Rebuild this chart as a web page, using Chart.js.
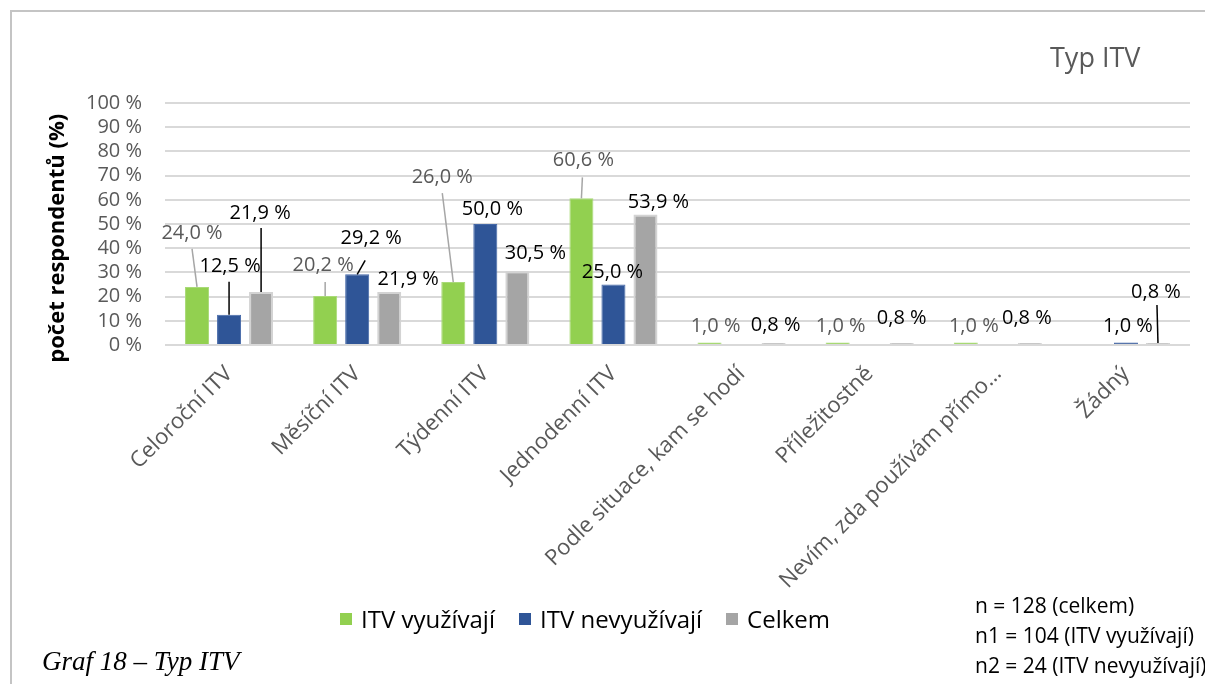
<!DOCTYPE html>
<html>
<head>
<meta charset="utf-8">
<script src="https://cdn.jsdelivr.net/npm/chart.js@4.4.1/dist/chart.umd.min.js"></script>
<style>
html,body{margin:0;padding:0;width:1205px;height:684px;overflow:hidden;background:#fff;}
#frame{position:absolute;left:10px;top:10px;width:1300px;height:800px;border-left:2px solid #c4c4c4;border-top:2px solid #c4c4c4;box-sizing:border-box;}
#c{position:absolute;left:0;top:0;}
#title{position:absolute;left:1050px;top:39px;font-family:"Open Sans",sans-serif;font-size:27px;line-height:36px;color:#595959;white-space:nowrap;}
#legend{position:absolute;left:340px;top:604px;height:30px;display:flex;align-items:center;font-family:"Open Sans",sans-serif;font-size:24px;line-height:30px;color:#000;white-space:nowrap;}
#legend .item{display:flex;align-items:center;margin-right:24px;}
#legend .sw{width:12px;height:12px;margin-right:9px;}
#notes{position:absolute;left:975px;top:590px;font-family:"Open Sans",sans-serif;font-size:21px;line-height:30px;color:#000;white-space:nowrap;}
#caption{position:absolute;left:42px;top:646px;font-family:"Liberation Serif","Times New Roman",serif;font-style:italic;font-size:27px;line-height:30px;color:#000;white-space:nowrap;}
</style>
</head>
<body>
<div id="frame"></div>
<canvas id="c" width="1205" height="684"></canvas>
<div id="title">Typ ITV</div>
<div id="legend"></div>
<div id="notes"></div>
<div id="caption">Graf 18 – Typ ITV</div>
<script>
// ---- data ----
const categories = [
  'Celoroční ITV',
  'Měsíční ITV',
  'Týdenní ITV',
  'Jednodenní ITV',
  'Podle situace, kam se hodí',
  'Příležitostně',
  'Nevím, zda používám přímo…',
  'Žádný'
];
const seriesNames = ['ITV využívají', 'ITV nevyužívají', 'Celkem'];
const itvVyuzivaji   = [24.0, 20.2, 26.0, 60.6, 1.0, 1.0, 1.0, null];
const itvNevyuzivaji = [12.5, 29.2, 50.0, 25.0, null, null, null, 1.0];
const celkem         = [21.9, 21.9, 30.5, 53.9, 0.8, 0.8, 0.8, 0.8];
const yTickLabels = ['0 %','10 %','20 %','30 %','40 %','50 %','60 %','70 %','80 %','90 %','100 %'];
const noteLines = ['n = 128 (celkem)', 'n1 = 104 (ITV využívají)', 'n2 = 24 (ITV nevyužívají)'];

// ---- styles / label placement (offsets from the bar top, leader start offset) ----
const seriesColors = ['#92D050', '#2F5597', '#A5A5A5'];
const seriesBorders = ['#A9DA78', '#4468A8', '#D3D3D3'];
const labelColors = ['#595959', '#000000', '#000000'];
const leaderColors = ['#A6A6A6', '#000000', '#000000'];
const labelLayout = [
  [[-5,-54,[0,16]], [-2,-31,[2,17]], [-11,-105,[0,16]], [2,-38,[-1,17]], [6,-16], [3,-16], [8,-16], null],
  [[1,-48,[-1,15]], [14,-36,[-6,22]], [7,-15], [-1,-12], null, null, null, [2,-16]],
  [[-1,-79,[1,15]], [19,-13], [18,-18], [13,-12], [2,-18], [0,-25], [-3,-25], [-2,-51,[1,13]]]
];

const fmt = v => v.toFixed(1).replace('.', ',') + ' %';

const barLabels = {
  id: 'barLabels',
  afterDatasetsDraw(chart) {
    const c = chart.ctx;
    chart.data.datasets.forEach((ds, i) => {
      const meta = chart.getDatasetMeta(i);
      meta.data.forEach((el, j) => {
        const v = ds.data[j];
        const lay = labelLayout[i][j];
        if (v == null || !lay) return;
        const tx = el.x + lay[0], ty = el.y + lay[1];
        if (lay[2]) {
          c.save();
          c.strokeStyle = leaderColors[i];
          c.lineWidth = 1.5;
          c.beginPath();
          c.moveTo(tx + lay[2][0], ty + lay[2][1]);
          c.lineTo(el.x, el.y);
          c.stroke();
          c.restore();
        }
        c.save();
        c.font = '20px "Open Sans"';
        c.fillStyle = labelColors[i];
        c.textAlign = 'center';
        c.textBaseline = 'middle';
        c.fillText(fmt(v), tx, ty);
        c.restore();
      });
    });
  }
};

const seriesData = [itvVyuzivaji, itvNevyuzivaji, celkem];

new Chart(document.getElementById('c'), {
  type: 'bar',
  data: {
    labels: categories,
    datasets: seriesNames.map((name, i) => ({
      label: name,
      data: seriesData[i],
      backgroundColor: seriesColors[i],
      borderColor: seriesBorders[i],
      borderWidth: i === 2 ? 2 : 1
    }))
  },
  options: {
    responsive: false,
    animation: false,
    layout: { padding: { left: 0, right: 15, top: 103, bottom: 0 } },
    datasets: { bar: { barPercentage: 0.75, categoryPercentage: 0.75 } },
    plugins: { legend: { display: false }, tooltip: { enabled: false }, title: { display: false } },
    scales: {
      x: {
        grid: { display: false },
        border: { display: false },
        ticks: {
          color: '#595959',
          font: { family: 'Open Sans', size: 22 },
          minRotation: 45, maxRotation: 45,
          autoSkip: false,
          padding: 8
        },
        afterFit(s) { s.height = 339; }
      },
      y: {
        min: 0, max: 100,
        ticks: {
          stepSize: 10,
          autoSkip: false,
          color: '#595959',
          font: { family: 'Open Sans', size: 20 },
          padding: 23,
          callback: (v) => yTickLabels[Math.round(v / 10)]
        },
        grid: { color: '#D9D9D9', lineWidth: 2, drawTicks: false },
        border: { display: false },
        title: {
          display: true,
          text: 'počet respondentů (%)\u00a0\u00a0\u00a0\u00a0\u00a0',
          color: '#000',
          font: { family: 'Open Sans', size: 22, weight: 'bold' },
          padding: { top: 45, bottom: 0 }
        },
        afterFit(s) { s.width = 165; }
      }
    }
  },
  plugins: [barLabels]
});

// HTML legend and notes
const lg = document.getElementById('legend');
seriesNames.forEach((n, i) => {
  const it = document.createElement('div');
  it.className = 'item';
  const sw = document.createElement('div');
  sw.className = 'sw';
  sw.style.background = seriesColors[i];
  const tx = document.createElement('span');
  tx.textContent = n;
  it.appendChild(sw); it.appendChild(tx);
  lg.appendChild(it);
});
document.getElementById('notes').innerHTML = noteLines.map(t => '<div>' + t + '</div>').join('');
</script>
</body>
</html>
